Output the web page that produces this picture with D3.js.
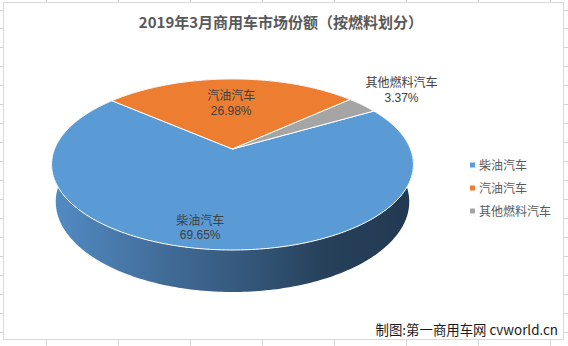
<!DOCTYPE html>
<html><head><meta charset="utf-8">
<script src="https://cdn.jsdelivr.net/npm/d3@7"></script>
<style>body{margin:0;background:#fff;}svg{display:block;}</style>
</head><body>
<script>
const title = "2019年3月商用车市场份额（按燃料划分）";
const categories = ["柴油汽车", "汽油汽车", "其他燃料汽车"];
const shares = [69.65, 26.98, 3.37];
const shareLabels = ["69.65%", "26.98%", "3.37%"];
const colors = ["#5b9bd5", "#ed7d31", "#a5a5a5"];
const footer = "制图:第一商用车网 cvworld.cn";

const W = 568, H = 346;
const FONT = "'Noto Sans CJK SC','Noto Sans',sans-serif";
const NUMFONT = "'Liberation Sans','Noto Sans CJK SC',sans-serif";
const svg = d3.select("body").append("svg").attr("width", W).attr("height", H);

// spreadsheet grid behind the chart
const g0 = svg.append("g").attr("stroke", "#d4d4d4").attr("stroke-width", 1);
d3.range(-1, 9).forEach(k => g0.append("line").attr("x1", 46.5 + 72 * k).attr("x2", 46.5 + 72 * k).attr("y1", 0).attr("y2", H));
d3.range(0, 19).forEach(k => { const y = Math.round(9.5 + 18.95 * k) + 0.5; g0.append("line").attr("x1", 0).attr("x2", W).attr("y1", y).attr("y2", y); });
svg.append("rect").attr("x", 3.5).attr("y", 2.5).attr("width", 560).attr("height", 337)
  .attr("fill", "#fff").attr("stroke", "#d9d9d9");

svg.append("text").attr("x", 281).attr("y", 28).attr("text-anchor", "middle")
  .attr("font-family", FONT).attr("font-size", 15).attr("font-weight", "bold").attr("fill", "#595959").text(title);

// perspective projection of a unit disc
const cx = 232.5, cy0 = 149, F = 870, Dd = 4.89, ce = 0.885, se = 0.465, Hh = 0.239;
function proj(theta, r, z) {
  const X = r * Math.sin(theta), Y = r * Math.cos(theta);
  const depth = Dd + Y * ce - z * se, up = Y * se + z * ce;
  return [cx + F * X / depth, cy0 - F * up / depth];
}
const pie = d3.pie().sort(null).startAngle(60 * Math.PI / 180).endAngle(60 * Math.PI / 180 + 2 * Math.PI);
const arcs = pie(shares);
function rim(a0, a1, z) {
  const n = Math.max(2, Math.ceil((a1 - a0) / (Math.PI / 180)));
  return d3.range(n + 1).map(i => proj(a0 + (a1 - a0) * i / n, 1, z));
}

const defs = svg.append("defs");
const grad = defs.append("linearGradient").attr("id", "side").attr("gradientUnits", "userSpaceOnUse")
  .attr("x1", cx - 181).attr("x2", cx + 181).attr("y1", 0).attr("y2", 0);
[["0%", "#528cc5"], ["25%", "#4572a0"], ["50%", "#365b80"], ["75%", "#27415b"], ["100%", "#223950"]]
  .forEach(s => grad.append("stop").attr("offset", s[0]).attr("stop-color", s[1]));

const line = d3.line();
// side walls
arcs.forEach((a, i) => {
  const top = rim(a.startAngle, a.endAngle, 0), bot = rim(a.startAngle, a.endAngle, -Hh).reverse();
  svg.append("path").attr("d", line(top.concat(bot)) + "Z").attr("fill", i === 0 ? "url(#side)" : d3.color(colors[i]).darker(1));
});
// top faces
arcs.forEach((a, i) => {
  const pts = [proj(0, 0, 0)].concat(rim(a.startAngle, a.endAngle, 0));
  svg.append("path").attr("d", line(pts) + "Z").attr("fill", colors[i])
    .attr("stroke", "#fff").attr("stroke-width", 1).attr("stroke-linejoin", "round");
});

// data labels
const labelLayout = [{ r: 0.7, dx: -19, dy: 10 }, { r: 0.68, dx: 0, dy: 1.5 }, { r: 1.2, dx: 16, dy: -10 }];
arcs.forEach((a, i) => {
  const mid = (a.startAngle + a.endAngle) / 2, L = labelLayout[i];
  const p = proj(mid, L.r, 0);
  svg.append("text").attr("text-anchor", "middle").attr("font-family", FONT)
    .attr("font-size", 12).attr("fill", "#404040")
    .attr("x", p[0] + L.dx).attr("y", p[1] + L.dy).text(categories[i]);
  svg.append("text").attr("text-anchor", "middle").attr("font-family", NUMFONT)
    .attr("font-size", 12).attr("fill", "#404040")
    .attr("x", p[0] + L.dx).attr("y", p[1] + L.dy + 14.5).text(shareLabels[i]);
});

// legend
const leg = svg.append("g").attr("transform", "translate(470,165)");
categories.forEach((c, i) => {
  const g = leg.append("g").attr("transform", `translate(0,${i * 23})`);
  g.append("rect").attr("x", 0).attr("y", -2.5).attr("width", 5).attr("height", 5).attr("fill", colors[i]);
  g.append("text").attr("x", 9).attr("y", 4.5).attr("font-family", FONT).attr("font-size", 12)
    .attr("fill", "#595959").text(c);
});

svg.append("text").attr("x", 558).attr("y", 335).attr("text-anchor", "end").attr("font-family", FONT)
  .attr("font-size", 13.4).attr("fill", "#1a1a1a").text(footer);
</script>
</body></html>
